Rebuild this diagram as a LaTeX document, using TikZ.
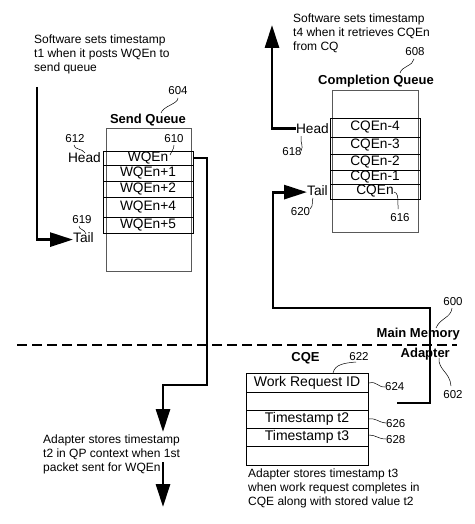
\documentclass[tikz,border=0pt]{standalone}
\usepackage{fontspec}
\setmainfont{Liberation Sans}
\usetikzlibrary{arrows.meta}
\begin{document}
\begin{tikzpicture}[x=1pt,y=-1pt,
  desc/.style={font=\fontsize{12}{13.8}\selectfont, align=left, inner sep=0pt, anchor=north west},
  num/.style={font=\fontsize{11.5}{13}\selectfont, inner sep=0pt, anchor=base},
  lbl/.style={font=\fontsize{13.7}{15}\selectfont, inner sep=0pt},
  ttl/.style={font=\bfseries\fontsize{13}{15}\selectfont, inner sep=0pt, anchor=base},
  row/.style={draw, line width=0.9pt, inner sep=0pt, font=\fontsize{13.7}{15}\selectfont},
  outerbox/.style={draw=black!65, line width=0.7pt, inner sep=0pt},
  flow/.style={line width=2.8pt},
  tip/.style={-{Triangle[length=23pt,width=14pt]}},
  lead/.style={line width=0.5pt}]
\useasboundingbox (0,0) rectangle (474,524);

% texts
\node[desc] (txt1) at (34,35) {Software sets timestamp\\t1 when it posts WQEn to\\send queue};
\node[desc] (txt4) at (293,14) {Software sets timestamp\\t4 when it retrieves CQEn\\from CQ};
\node[desc] (txt2) at (43,435) {Adapter stores timestamp\\t2 in QP context when 1st\\packet sent for WQEn};
\node[desc] (txt3) at (248,469) {Adapter stores timestamp t3\\when work request completes in\\CQE along with stored value t2};

% send queue
\node[ttl] (sqt) at (148,123) {Send Queue};
\node[outerbox, minimum width=85pt, minimum height=143pt] (sq) at (148.5,199.5) {};
\node[row, minimum width=90pt, minimum height=14pt] (sq1) at (148,158) {WQEn};
\node[row, minimum width=90pt, minimum height=16pt] (sq2) at (148,173) {WQEn+1};
\node[row, minimum width=90pt, minimum height=16pt] (sq3) at (148,189) {WQEn+2};
\node[row, minimum width=90pt, minimum height=20pt] (sq4) at (148,207) {WQEn+4};
\node[row, minimum width=90pt, minimum height=16pt] (sq5) at (148,225) {WQEn+5};
\node[lbl, anchor=base east] (headS) at (101,162) {Head};
\node[lbl, anchor=base west] (tailS) at (73,242) {Tail};
\node[num] (n604) at (178,95) {604};
\node[num] (n612) at (75,142) {612};
\node[num] (n610) at (174,142) {610};
\node[num] (n619) at (82,223) {619};

% completion queue
\node[ttl] (cqt) at (376,85) {Completion Queue};
\node[outerbox, minimum width=86pt, minimum height=142pt] (cq) at (375,161) {};
\node[row, minimum width=90pt, minimum height=19pt] (cq1) at (375,127.5) {CQEn-4};
\node[row, minimum width=90pt, minimum height=17pt] (cq2) at (375,145.5) {CQEn-3};
\node[row, minimum width=90pt, minimum height=16pt] (cq3) at (375,162) {CQEn-2};
\node[row, minimum width=90pt, minimum height=14pt] (cq4) at (375,177) {CQEn-1};
\node[row, minimum width=90pt, minimum height=15pt] (cq5) at (375,191.5) {CQEn};
\node[lbl, anchor=base east] (headC) at (329,133) {Head};
\node[lbl, anchor=base west] (tailC) at (307,195) {Tail};
\node[num] (n608) at (415,56) {608};
\node[num] (n618) at (292,155) {618};
\node[num] (n620) at (300.5,215) {620};
\node[num] (n616) at (400,221) {616};

% CQE
\node[ttl] (cqet) at (305.5,361) {CQE};
\node[row, minimum width=122pt, minimum height=19pt, font=\fontsize{14}{15}\selectfont] (e1) at (307,382.5) {Work Request ID};
\node[row, minimum width=122pt, minimum height=18pt] (e2) at (307,401) {};
\node[row, minimum width=122pt, minimum height=18pt, font=\fontsize{14}{15}\selectfont] (e3) at (307,419) {Timestamp t2};
\node[row, minimum width=122pt, minimum height=18pt, font=\fontsize{14}{15}\selectfont] (e4) at (307,437) {Timestamp t3};
\node[row, minimum width=122pt, minimum height=19pt] (e5) at (307,455.5) {};
\node[num] (n622) at (359,360) {622};
\node[num, anchor=base west] (n624) at (385,390) {624};
\node[num, anchor=base west] (n626) at (386,427) {626};
\node[num, anchor=base west] (n628) at (386,443) {628};

% memory / adapter
\coordinate (m1) at (17,345);
\coordinate (m2) at (457,345);
\draw[line width=2.8pt, dash pattern=on 10pt off 5pt] (m1) -- (m2);
\node[ttl, anchor=base east] (mm) at (460,337) {Main Memory};
\node[ttl, anchor=base east] (ad) at (450,357) {Adapter};
\node[num] (n600) at (453,305) {600};
\node[num] (n602) at (453,398) {602};

% flows
\coordinate (s1) at (37,87);
\draw[flow,tip] (s1) |- ([yshift=-2.5pt]tailS.west);
\coordinate (a1) at (207,385);
\coordinate (a2) at (163,432);
\draw[flow,tip] (sq1.east) -| (a1) -| (a2);
\coordinate (b1) at (163,462);
\coordinate (b2) at (163,507);
\draw[flow,tip] (b1) -- (b2);
\coordinate (c1) at (272,25);
\draw[flow,tip] (headC.west) -| (c1);
\coordinate (d0) at (397,403);
\coordinate (d1) at (430,308);
\coordinate (d2) at (273,308);
\draw[flow,tip] (d0) -| (d1) -- (d2) |- ([yshift=-2pt]tailC.west);

% leaders
\draw[lead] (178,98) .. controls (178,104) and (163,106) .. (161,113);
\draw[lead] (414,59) .. controls (413,66) and (402,66) .. (400,73);
\draw[lead] (74,145) .. controls (74,150) and (82,148) .. (85,153);
\draw[lead] (174,145) .. controls (174,150) and (171,151) .. (170,155);
\draw[lead] (79,226) .. controls (79,230) and (85,229) .. (86,234);
\draw[lead] (301,136) .. controls (300,143) and (304,146) .. (301,151);
\draw[lead] (313,198) .. controls (311,203) and (314,205) .. (310,209);
\draw[lead] (394,192) .. controls (398,193) and (398,196) .. (398,209);
\draw[lead] (452,308) .. controls (451,318) and (440,318) .. (436,328);
\draw[lead] (439,358) .. controls (438,370) and (450,372) .. (451,386);
\draw[lead] (356,362) .. controls (345,363) and (335,364) .. (333,373);
\draw[lead] (369,383) .. controls (377,381) and (377,387) .. (385,387);
\draw[lead] (369,419) .. controls (377,418) and (377,422) .. (386,423);
\draw[lead] (369,435) .. controls (376,435) and (378,439) .. (386,439);
\end{tikzpicture}
\end{document}
